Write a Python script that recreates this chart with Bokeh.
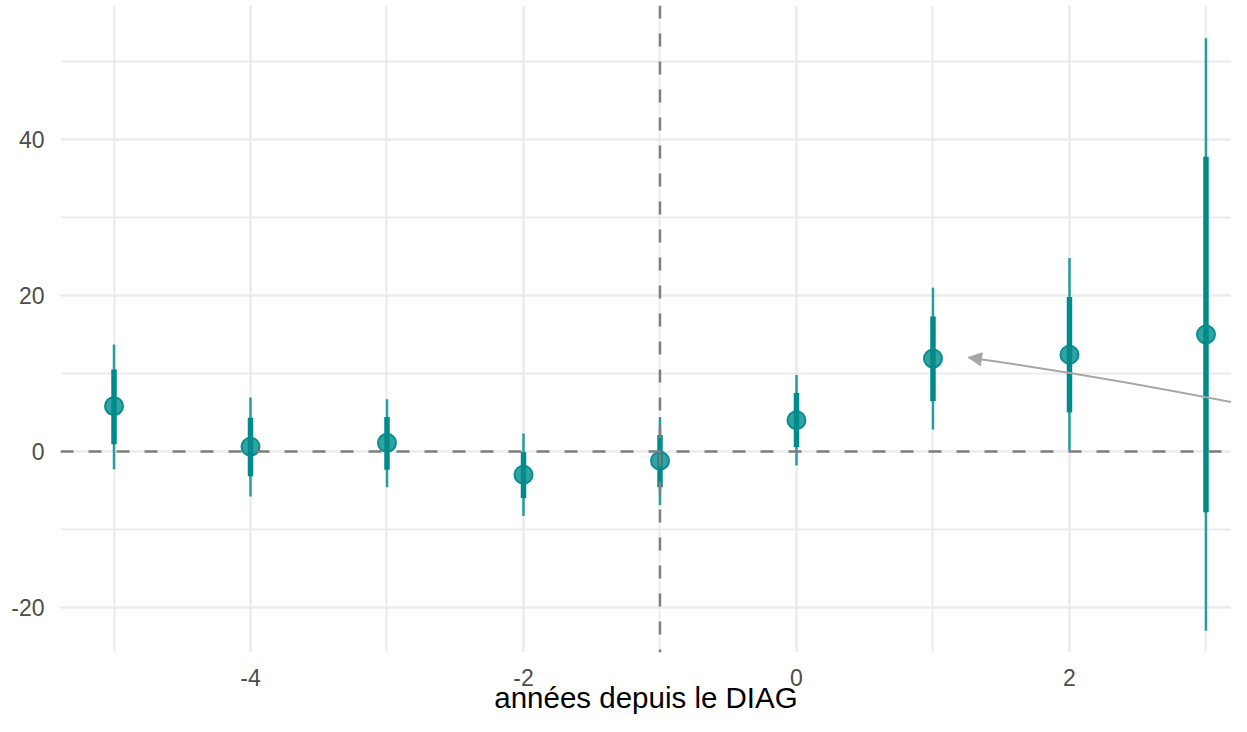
from bokeh.plotting import figure
from bokeh.models import (Range1d, SingleIntervalTicker, Span, Arrow, NormalHead,
                          ColumnDataSource, CustomJSTickFormatter)
from bokeh.embed import file_html
from bokeh.resources import INLINE

# ---- data ----
years = [-5, -4, -3, -2, -1, 0, 1, 2, 3]
estimate = [5.8, 0.6, 1.1, -3.0, -1.2, 4.0, 11.9, 12.4, 15.0]
ci_inner_low = [0.9, -3.2, -2.35, -6.0, -4.6, 0.55, 6.45, 5.0, -7.8]
ci_inner_high = [10.5, 4.3, 4.4, -0.1, 2.1, 7.5, 17.3, 19.8, 37.8]
ci_outer_low = [-2.3, -5.8, -4.6, -8.3, -6.9, -1.8, 2.8, 0.1, -23.0]
ci_outer_high = [13.7, 6.9, 6.7, 2.3, 4.4, 9.8, 21.0, 24.8, 53.0]

# annotation curve (start, control, end) and its arrowhead
curve_start = (3.5, 5.2)
curve_ctrl = (2.38, 9.27)
curve_end = (1.26, 12.05)
head_from = (1.305, 11.94)

x_ticks_interval = 2
y_ticks_interval = 20
x_label = "années depuis le DIAG"
ref_year = -1

src = ColumnDataSource(dict(x=years, est=estimate, lo1=ci_inner_low, hi1=ci_inner_high,
                            lo2=ci_outer_low, hi2=ci_outer_high))

FONT = "Liberation Sans"
TEAL = "#008B8B"

p = figure(width=1231, height=716, output_backend="svg", toolbar_location=None,
           x_range=Range1d(-5.392, 3.187), y_range=Range1d(-25.8, 57.2))
p.min_border_left = 60
p.min_border_top = 5
p.min_border_right = 0
p.min_border_bottom = 0
p.outline_line_color = None
p.background_fill_color = "white"
p.border_fill_color = "white"

p.xaxis.ticker = SingleIntervalTicker(interval=x_ticks_interval, num_minor_ticks=2)
p.yaxis.ticker = SingleIntervalTicker(interval=y_ticks_interval, num_minor_ticks=2)
for ax in (p.xaxis, p.yaxis):
    ax.axis_line_color = None
    ax.major_tick_line_color = None
    ax.minor_tick_line_color = None
    ax.major_label_text_font = FONT
    ax.major_label_text_font_size = "23px"
    ax.major_label_text_color = "#4D4D4D"
    ax.formatter = CustomJSTickFormatter(code="return tick.toString();")
p.xaxis.major_label_standoff = 10
p.yaxis.major_label_standoff = 10
p.xaxis.axis_label = x_label
p.xaxis.axis_label_text_font = FONT
p.xaxis.axis_label_text_font_size = "29.5px"
p.xaxis.axis_label_text_font_style = "normal"
p.xaxis.axis_label_text_color = "black"
p.xaxis.axis_label_standoff = -8

for g in (p.xgrid, p.ygrid):
    g.grid_line_color = "#EBEBEB"
    g.grid_line_width = 2
    g.minor_grid_line_color = "#EBEBEB"
    g.minor_grid_line_width = 2

p.add_layout(Span(location=0, dimension="width", line_color="#7F7F7F",
                  line_width=2.5, line_dash="13 15"))
p.add_layout(Span(location=ref_year, dimension="height", line_color="#7F7F7F",
                  line_width=2.5, line_dash="13 15"))

p.segment(x0="x", y0="lo2", x1="x", y1="hi2", source=src, line_color="#119494",
          line_alpha=0.9, line_width=2.5)
p.segment(x0="x", y0="lo1", x1="x", y1="hi1", source=src, line_color=TEAL,
          line_alpha=1.0, line_width=5.5)
p.scatter(x="x", y="est", source=src, size=18, fill_color=TEAL, fill_alpha=0.8,
          line_color=TEAL, line_alpha=0.95, line_width=2)

p.quadratic(x0=[curve_start[0]], y0=[curve_start[1]], x1=[curve_end[0]], y1=[curve_end[1]],
            cx=[curve_ctrl[0]], cy=[curve_ctrl[1]], line_color="#A6A6A6", line_width=2)
p.add_layout(Arrow(end=NormalHead(size=13, fill_color="#A6A6A6", line_color="#A6A6A6"),
                   x_start=head_from[0], y_start=head_from[1],
                   x_end=curve_end[0], y_end=curve_end[1], line_alpha=0, line_width=0))

open("out.html", "w").write(file_html(p, INLINE))
